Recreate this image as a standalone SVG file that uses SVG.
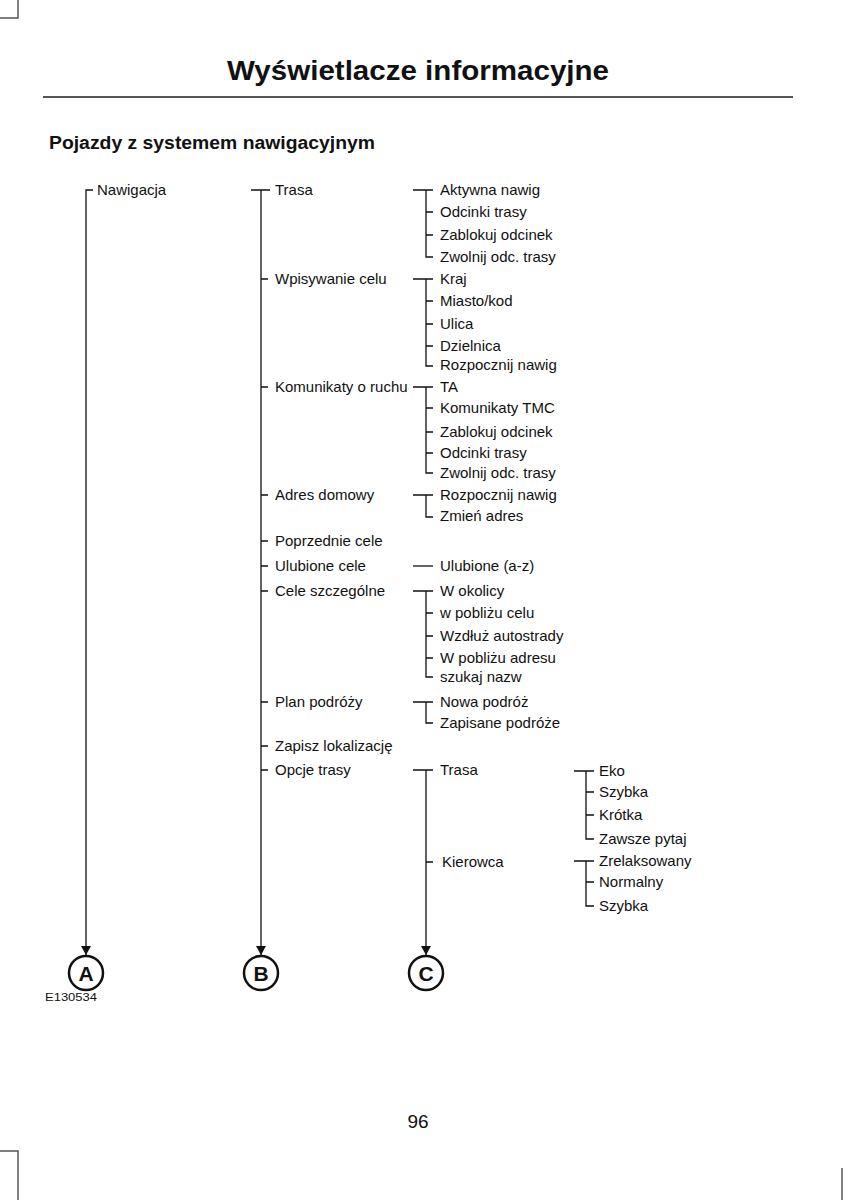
<svg xmlns="http://www.w3.org/2000/svg" width="861" height="1200" viewBox="0 0 861 1200">
<defs>
<style>
.t{font-family:"Liberation Sans",Arial,sans-serif;font-size:15px;fill:#111}
.c{stroke:#111;stroke-width:1.3;fill:none}
.crop{stroke:#555;stroke-width:1.5;fill:none}
.circ{stroke:#111;stroke-width:2.5;fill:#fff}
.lt{font-family:"Liberation Sans",Arial,sans-serif;font-size:21px;font-weight:bold;fill:#111;text-anchor:middle}
</style>
<marker id="ah" markerWidth="10" markerHeight="10" refX="9" refY="5" orient="auto" markerUnits="userSpaceOnUse">
<path d="M0,0 L9,5 L0,10 Z" fill="#111"/>
</marker>
</defs>
<rect width="861" height="1200" fill="#fff"/>
<g id="page">
<path class="crop" d="M18,0 V18 H0"/>
<path class="crop" d="M0,1151 H18 V1200"/>
<path class="crop" d="M842,1168 V1200"/>
<text x="418" y="80" font-family="Liberation Sans,Arial,sans-serif" font-size="27" font-weight="bold" text-anchor="middle" textLength="382" lengthAdjust="spacingAndGlyphs" fill="#111">Wyświetlacze informacyjne</text>
<line x1="43" y1="97" x2="793" y2="97" stroke="#555" stroke-width="2"/>
<text x="49" y="149" font-family="Liberation Sans,Arial,sans-serif" font-size="18" font-weight="bold" textLength="326" lengthAdjust="spacingAndGlyphs" fill="#111">Pojazdy z systemem nawigacyjnym</text>
<text x="418" y="1128" font-family="Liberation Sans,Arial,sans-serif" font-size="19" text-anchor="middle" fill="#111">96</text>
<text x="45" y="1001" font-family="Liberation Sans,Arial,sans-serif" font-size="11" textLength="52" lengthAdjust="spacingAndGlyphs" fill="#111">E130534</text>
</g>
<g id="connectors">
<path class="c" d="M93,190 H86 V955" marker-end="url(#ah)"/>
<path class="c" d="M251,190 H270 M261,190 V955" marker-end="url(#ah)"/>
<path class="c" d="M261,279 H268 M261,387 H268 M261,495 H268 M261,541 H268 M261,566 H268 M261,591 H268 M261,702 H268 M261,746 H268 M261,770 H268"/>
<path class="c" d="M413,190 H433 M426,190 V257 H433 M426,212 H433 M426,235 H433"/>
<path class="c" d="M413,279 H433 M426,279 V366 H433 M426,301 H433 M426,324 H433 M426,346 H433"/>
<path class="c" d="M413,387 H433 M426,387 V473 H433 M426,408 H433 M426,432 H433 M426,453 H433"/>
<path class="c" d="M413,495 H433 M426,495 V517 H433"/>
<path class="c" d="M413,566 H433"/>
<path class="c" d="M413,591 H433 M426,591 V677 H433 M426,613 H433 M426,636 H433 M426,658 H433"/>
<path class="c" d="M413,702 H433 M426,702 V723 H433"/>
<path class="c" d="M413,770 H433 M426,862 H433 M426,770 V955" marker-end="url(#ah)"/>
<path class="c" d="M574,771 H594 M586,771 V839 H594 M586,792 H594 M586,815 H594"/>
<path class="c" d="M574,861 H594 M586,861 V906 H594 M586,882 H594"/>
</g>
<g id="nodeA"><text class="t" x="97" y="195">Nawigacja</text></g>
<g id="level2">
<text class="t" x="275" y="195">Trasa</text>
<text class="t" x="275" y="284">Wpisywanie celu</text>
<text class="t" x="275" y="392">Komunikaty o ruchu</text>
<text class="t" x="275" y="500">Adres domowy</text>
<text class="t" x="275" y="546">Poprzednie cele</text>
<text class="t" x="275" y="571">Ulubione cele</text>
<text class="t" x="275" y="596">Cele szczególne</text>
<text class="t" x="275" y="707">Plan podróży</text>
<text class="t" x="275" y="751">Zapisz lokalizację</text>
<text class="t" x="275" y="775">Opcje trasy</text>
</g>
<g id="level3">
<text class="t" x="440" y="195">Aktywna nawig</text>
<text class="t" x="440" y="217">Odcinki trasy</text>
<text class="t" x="440" y="240">Zablokuj odcinek</text>
<text class="t" x="440" y="262">Zwolnij odc. trasy</text>
<text class="t" x="440" y="284">Kraj</text>
<text class="t" x="440" y="306">Miasto/kod</text>
<text class="t" x="440" y="329">Ulica</text>
<text class="t" x="440" y="351">Dzielnica</text>
<text class="t" x="440" y="370">Rozpocznij nawig</text>
<text class="t" x="440" y="392">TA</text>
<text class="t" x="440" y="413">Komunikaty TMC</text>
<text class="t" x="440" y="437">Zablokuj odcinek</text>
<text class="t" x="440" y="458">Odcinki trasy</text>
<text class="t" x="440" y="478">Zwolnij odc. trasy</text>
<text class="t" x="440" y="500">Rozpocznij nawig</text>
<text class="t" x="440" y="521">Zmień adres</text>
<text class="t" x="440" y="571">Ulubione (a-z)</text>
<text class="t" x="440" y="596">W okolicy</text>
<text class="t" x="440" y="618">w pobliżu celu</text>
<text class="t" x="440" y="641">Wzdłuż autostrady</text>
<text class="t" x="440" y="663">W pobliżu adresu</text>
<text class="t" x="440" y="682">szukaj nazw</text>
<text class="t" x="440" y="707">Nowa podróż</text>
<text class="t" x="440" y="728">Zapisane podróże</text>
<text class="t" x="440" y="775">Trasa</text>
<text class="t" x="442" y="867">Kierowca</text>
</g>
<g id="level4">
<text class="t" x="599" y="776">Eko</text>
<text class="t" x="599" y="797">Szybka</text>
<text class="t" x="599" y="820">Krótka</text>
<text class="t" x="599" y="844">Zawsze pytaj</text>
<text class="t" x="599" y="866">Zrelaksowany</text>
<text class="t" x="599" y="887">Normalny</text>
<text class="t" x="599" y="911">Szybka</text>
</g>
<g id="circleA"><circle class="circ" cx="86" cy="973" r="17"/><text class="lt" x="86" y="981">A</text></g>
<g id="circleB"><circle class="circ" cx="261" cy="973" r="17"/><text class="lt" x="261" y="981">B</text></g>
<g id="circleC"><circle class="circ" cx="426" cy="973" r="17"/><text class="lt" x="426" y="981">C</text></g>
</svg>
